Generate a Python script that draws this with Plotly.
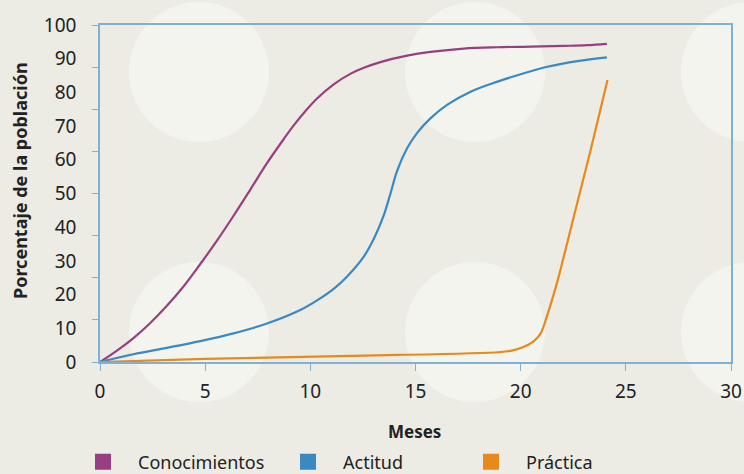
import plotly.graph_objects as go

# ---- data ----
series_names = ["Conocimientos", "Actitud", "Práctica"]
conoc_x = [0, 0.79, 1.59, 2.38, 3.17, 3.97, 4.76, 5.56, 6.35, 7.14, 7.94, 8.73, 9.21, 9.84, 10.32,
           11.11, 11.9, 12.54, 13.33, 14.6, 15.71, 17.3, 18.9, 20.5, 22.06, 23.17, 24.1]
conoc_y = [0, 3.3, 7.1, 11.5, 16.6, 22.4, 29.0, 36.0, 43.4, 51.1, 59.0, 66.1, 70.2, 75.0, 78.2,
           82.4, 85.5, 87.3, 89.0, 90.9, 92.0, 93.0, 93.4, 93.6, 93.8, 94.0, 94.4]
actit_x = [0, 1.59, 3.17, 4.76, 6.35, 7.94, 9.52, 10.3, 11.11, 11.75, 12.54, 13.02, 13.49, 13.81, 14.13,
           14.6, 15.08, 15.71, 16.5, 17.62, 18.9, 20.16, 21.27, 22.7, 24.1]
actit_y = [0, 2.3, 4.2, 6.2, 8.5, 11.4, 15.4, 18.2, 21.7, 25.4, 31.3, 36.6, 43.5, 50.0, 56.8,
           63.4, 68.0, 72.3, 76.3, 80.2, 83.2, 85.7, 87.6, 89.3, 90.4]
pract_x = [0, 5, 11.9, 18.9, 19.52, 20.16, 20.63, 20.95, 21.27, 21.75, 22.06, 22.54, 23.33, 24.13]
pract_y = [0, 0.9, 1.8, 2.9, 3.3, 4.5, 6.2, 8.5, 14.0, 24.0, 31.5, 43.5, 63.0, 83.7]
x_ticks = [0, 5, 10, 15, 20, 25, 30]
y_ticks = [0, 10, 20, 30, 40, 50, 60, 70, 80, 90, 100]
y_marks = [0, 12.5, 25, 37.5, 50, 62.5, 75, 87.5, 100]

colors = ["#973f80", "#3a89c1", "#e8891c"]
axis_col = "#7fb1d6"
bg = "#ecebe4"
circ = "#f4f4ef"
font = "Noto Sans"

W, H = 744, 474
L, R, T, B = 100, 13, 25, 112
pw, ph = W - L - R, H - T - B

def px2paper_x(px):
    return (px - L) / pw

def px2paper_y(py):
    return (H - B - py) / ph

fig = go.Figure()

all_x = [conoc_x, actit_x, pract_x]
all_y = [conoc_y, actit_y, pract_y]
for i, name in enumerate(series_names):
    fig.add_trace(go.Scatter(x=all_x[i], y=all_y[i], mode="lines",
                             line=dict(color=colors[i], width=2.2, shape="spline", smoothing=1.0),
                             showlegend=False, hoverinfo="skip"))
# legend entries (squares)
legend_ids = ["legend", "legend2", "legend3"]
for i, name in enumerate(series_names):
    fig.add_trace(go.Scatter(x=[None], y=[None], mode="markers", name=name,
                             marker=dict(symbol="square", size=16, color=colors[i]),
                             legend=legend_ids[i], showlegend=True))
# helper for secondary y axis tick marks
fig.add_trace(go.Scatter(x=[None], y=[None], yaxis="y2", showlegend=False, hoverinfo="skip"))

# decorative circles
cx_list = [199, 475, 751]
cy_list = [72, 332]
r = 70
shapes = []
for cx in cx_list:
    for cy in cy_list:
        shapes.append(dict(type="circle", xref="paper", yref="paper",
                           x0=px2paper_x(cx - r), x1=px2paper_x(cx + r),
                           y0=px2paper_y(cy + r), y1=px2paper_y(cy - r),
                           fillcolor=circ, line=dict(width=0), layer="below"))

leg_common = dict(orientation="h", font=dict(family=font, size=18, color="#222"),
                  bgcolor="rgba(0,0,0,0)", yanchor="middle", xanchor="left",
                  itemwidth=60, tracegroupgap=0, itemsizing="trace", borderwidth=0)
sq_centers = [103, 308, 491]
legends = {}
for i, lid in enumerate(legend_ids):
    legends[lid] = dict(leg_common, x=px2paper_x(sq_centers[i] - 35), y=px2paper_y(462))

fig.update_layout(
    width=W, height=H,
    margin=dict(l=L, r=R, t=T, b=B, autoexpand=False),
    paper_bgcolor=bg, plot_bgcolor="rgba(0,0,0,0)",
    font=dict(family=font, color="#222"),
    shapes=shapes,
    xaxis=dict(range=[0, 30], tickvals=x_ticks, ticks="outside", ticklen=7, tickcolor=axis_col,
               showline=True, linecolor=axis_col, linewidth=1.5, mirror=True, showgrid=False,
               zeroline=False, tickfont=dict(family=font, size=19, color="#222"),
               ticklabelstandoff=4, automargin=False),
    yaxis=dict(range=[0, 100], tickvals=y_ticks, ticks="", showline=True, linecolor=axis_col,
               linewidth=1.5, mirror=True, showgrid=False, zeroline=False,
               tickfont=dict(family=font, size=19, color="#222"), ticklabelstandoff=18,
               automargin=False),
    yaxis2=dict(range=[0, 100], overlaying="y", side="left", tickvals=y_marks, ticks="outside",
                ticklen=7, tickcolor=axis_col, showticklabels=False, showgrid=False,
                zeroline=False, showline=False, automargin=False),
    annotations=[
        dict(text="<b>Meses</b>", xref="paper", yref="paper", x=px2paper_x(414), y=px2paper_y(431),
             xanchor="center", yanchor="middle", showarrow=False, font=dict(family=font, size=17, color="#222")),
        dict(text="<b>Porcentaje de la población</b>", xref="paper", yref="paper", x=px2paper_x(20),
             y=px2paper_y(181), xanchor="center", yanchor="middle", textangle=-90, showarrow=False,
             font=dict(family=font, size=18, color="#222")),
    ],
    **legends,
)

fig.write_html("out.html", config={"displayModeBar": False},
               post_script="document.body.style.margin='0';document.body.style.overflow='hidden';")
